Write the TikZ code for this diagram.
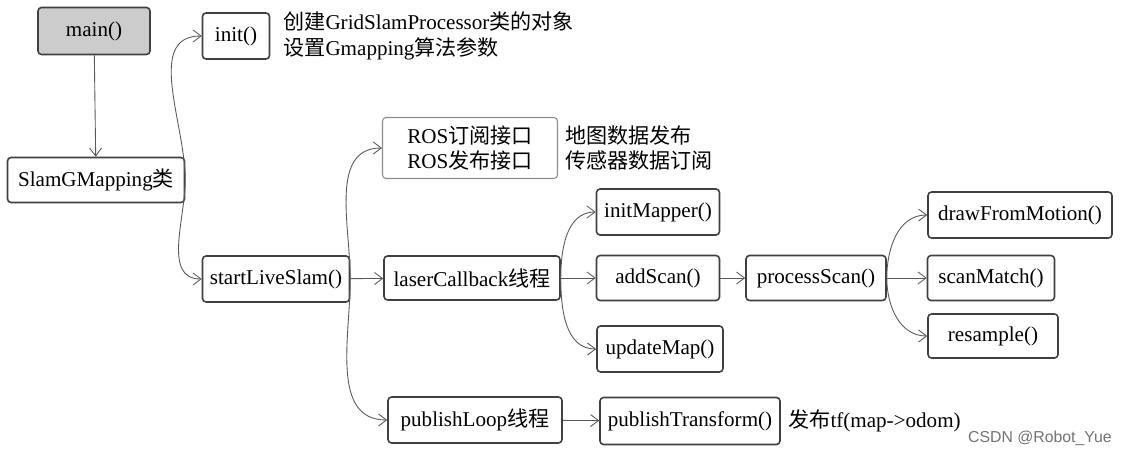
\documentclass[tikz,border=0pt]{standalone}
\usepackage{fontspec}
\setmainfont{Liberation Serif}
\newfontfamily\zh{Noto Sans CJK SC}
\newfontfamily\wm{Liberation Sans}
\usetikzlibrary{arrows.meta}
\begin{document}
\begin{tikzpicture}[x=0.02cm, y=-0.02cm,
  box/.style={draw=black!75, line width=0.9pt, rounded corners=2pt, fill=white, inner sep=0pt, font=\fontsize{12}{14.5}\selectfont},
  note/.style={anchor=west, align=left, inner sep=0pt, font=\fontsize{12}{14.5}\selectfont},
  link/.style={->, >={Straight Barb[length=1.6mm, width=2.4mm]}, draw=black!65, line width=0.5pt}]
\useasboundingbox (0,0) rectangle (1121,453);
% boxes
\node[box, fill=gray!40, minimum width=2.24cm, minimum height=0.94cm] (main) at (94,31) {main()};
\node[box, minimum width=1.34cm, minimum height=0.92cm] (init) at (236,36) {init()};
\node[box, minimum width=3.54cm, minimum height=0.9cm] (slam) at (96,180) {SlamGMapping{\zh 类}};
\node[box, minimum width=2.94cm, minimum height=0.92cm] (start) at (276,279) {startLiveSlam()};
\node[box, draw=black!45, line width=0.6pt, align=center, minimum width=3.5cm, minimum height=1.22cm] (ros) at (470,148) {ROS{\zh 订阅接口}\\ROS{\zh 发布接口}};
\node[box, minimum width=3.52cm, minimum height=0.88cm] (laser) at (472,278) {laserCallback{\zh 线程}};
\node[box, minimum width=2.46cm, minimum height=0.92cm] (initmap) at (658,212) {initMapper()};
\node[box, minimum width=2.46cm, minimum height=0.9cm] (addscan) at (658,278) {addScan()};
\node[box, minimum width=2.52cm, minimum height=0.92cm] (update) at (660,349) {updateMap()};
\node[box, minimum width=2.8cm, minimum height=0.9cm] (process) at (816,278) {processScan()};
\node[box, minimum width=3.68cm, minimum height=0.92cm] (motion) at (1020,215) {drawFromMotion()};
\node[box, minimum width=2.54cm, minimum height=0.9cm] (match) at (991,278) {scanMatch()};
\node[box, minimum width=2.6cm, minimum height=0.88cm] (resample) at (993,336) {resample()};
\node[box, minimum width=3.48cm, minimum height=0.92cm] (publoop) at (475,420) {publishLoop{\zh 线程}};
\node[box, minimum width=3.6cm, minimum height=0.94cm] (pubtf) at (690,421) {publishTransform()};
% side notes
\node[note] (initnote) at (283,36) {{\zh 创建}GridSlamProcessor{\zh 类的对象}\\{\zh 设置}Gmapping{\zh 算法参数}};
\node[note] (rosnote) at (565,148) {{\zh 地图数据发布}\\{\zh 传感器数据订阅}};
\node[note] (tfnote) at (788,421) {{\zh 发布}tf(map->odom)};
\node[anchor=east, inner sep=0pt, text=black!55, font=\wm\fontsize{9}{10}\selectfont] (mark) at (1112,438) {CSDN @Robot\_Yue};
% links
\draw[link] (main) -- (slam);
\draw[link] (slam.east) to[out=90, in=180] (init.west);
\draw[link] (slam.east) to[out=-90, in=180] (start.west);
\draw[link] (start.east) to[out=90, in=180] (ros.west);
\draw[link] (start) -- (laser);
\draw[link] (start.east) to[out=-90, in=180] (publoop.west);
\draw[link] (laser.east) to[out=90, in=180] (initmap.west);
\draw[link] (laser) -- (addscan);
\draw[link] (laser.east) to[out=-90, in=180] (update.west);
\draw[link] (addscan) -- (process);
\draw[link] (process.east) to[out=90, in=180] (motion.west);
\draw[link] (process) -- (match);
\draw[link] (process.east) to[out=-90, in=180] (resample.west);
\draw[link] (publoop) -- (pubtf);
\end{tikzpicture}
\end{document}
